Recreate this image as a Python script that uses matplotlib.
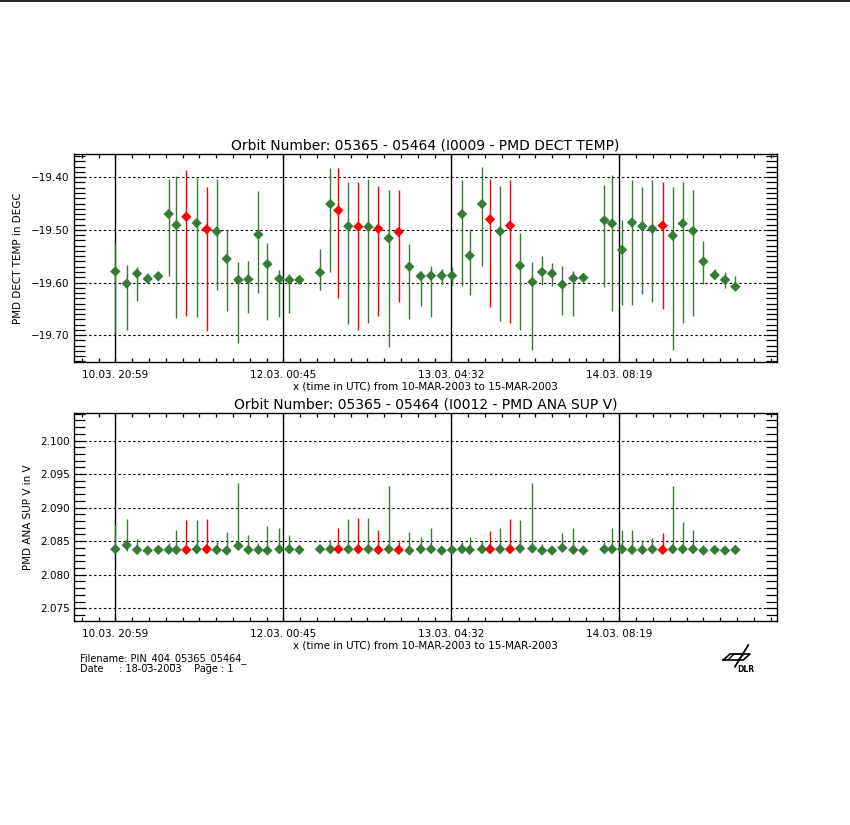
import numpy as np
import matplotlib
matplotlib.use('Agg')
import matplotlib.pyplot as plt
from matplotlib.ticker import FixedLocator, FuncFormatter

# time of each orbit sample, hours after 10-MAR-2003 00:00 UTC
obs_hours = [20.98, 22.86, 24.57, 26.33, 28.09, 29.80, 31.07, 32.72, 34.43, 36.09,
             37.74, 39.39, 41.32, 42.97, 44.63, 46.12, 48.10, 49.75, 51.41, 54.82,
             56.53, 57.86, 59.51, 61.16, 62.82, 64.47, 66.18, 67.83, 69.59, 71.47,
             73.18, 74.94, 76.65, 78.30, 79.57, 81.61, 82.93, 84.59, 86.24, 87.89,
             89.93, 91.53, 93.18, 94.89, 96.71, 98.36, 101.84, 103.11, 104.76, 106.41,
             108.12, 109.77, 111.48, 113.14, 114.79, 116.50, 118.21, 120.08, 121.79, 123.50]
# 1 = limit violation (drawn red)
limit_flag = [0, 0, 0, 0, 0, 0, 0, 1, 0, 1,
              0, 0, 0, 0, 0, 0, 0, 0, 0, 0,
              0, 1, 0, 1, 0, 1, 0, 1, 0, 0,
              0, 0, 0, 0, 0, 0, 1, 0, 1, 0,
              0, 0, 0, 0, 0, 0, 0, 0, 0, 0,
              0, 0, 1, 0, 0, 0, 0, 0, 0, 0]

# I0009 PMD DECT TEMP (DEGC): mean, min, max per orbit
temp_mean = [-19.579, -19.602, -19.583, -19.593, -19.588, -19.470, -19.491, -19.475, -19.487, -19.499,
             -19.503, -19.555, -19.595, -19.594, -19.509, -19.565, -19.593, -19.595, -19.595, -19.581,
             -19.451, -19.463, -19.493, -19.494, -19.494, -19.498, -19.516, -19.504, -19.570, -19.588,
             -19.587, -19.587, -19.587, -19.470, -19.549, -19.451, -19.480, -19.503, -19.492, -19.568,
             -19.599, -19.580, -19.583, -19.604, -19.592, -19.591, -19.482, -19.488, -19.538, -19.486,
             -19.493, -19.498, -19.492, -19.511, -19.488, -19.502, -19.560, -19.586, -19.595, -19.608]
temp_max = [-19.527, -19.566, -19.571, -19.582, -19.581, -19.404, -19.397, -19.386, -19.401, -19.419,
            -19.404, -19.500, -19.561, -19.559, -19.426, -19.525, -19.577, -19.583, -19.592, -19.536,
            -19.382, -19.382, -19.410, -19.409, -19.404, -19.416, -19.424, -19.424, -19.527, -19.579,
            -19.568, -19.575, -19.570, -19.405, -19.498, -19.380, -19.404, -19.416, -19.405, -19.506,
            -19.561, -19.549, -19.563, -19.568, -19.578, -19.586, -19.415, -19.396, -19.481, -19.405,
            -19.418, -19.405, -19.409, -19.418, -19.410, -19.424, -19.521, -19.575, -19.581, -19.587]
temp_min = [-19.696, -19.691, -19.636, -19.603, -19.598, -19.588, -19.668, -19.664, -19.666, -19.693,
            -19.614, -19.655, -19.715, -19.657, -19.619, -19.672, -19.666, -19.658, -19.600, -19.614,
            -19.581, -19.630, -19.678, -19.690, -19.676, -19.664, -19.723, -19.637, -19.669, -19.645,
            -19.666, -19.602, -19.606, -19.607, -19.623, -19.568, -19.647, -19.673, -19.676, -19.690,
            -19.729, -19.604, -19.606, -19.662, -19.664, -19.599, -19.609, -19.654, -19.642, -19.642,
            -19.621, -19.637, -19.650, -19.729, -19.676, -19.664, -19.602, -19.594, -19.611, -19.614]

# I0012 PMD ANA SUP V (V): mean, min, max per orbit
volt_mean = [2.0838, 2.0844, 2.0837, 2.0836, 2.0837, 2.0837, 2.0837, 2.0837, 2.0838, 2.0838,
             2.0837, 2.0836, 2.0843, 2.0837, 2.0837, 2.0836, 2.0838, 2.0838, 2.0837, 2.0838,
             2.0838, 2.0838, 2.0838, 2.0838, 2.0838, 2.0837, 2.0838, 2.0837, 2.0836, 2.0838,
             2.0838, 2.0836, 2.0837, 2.0838, 2.0837, 2.0838, 2.0838, 2.0838, 2.0838, 2.0839,
             2.0839, 2.0836, 2.0836, 2.0840, 2.0837, 2.0836, 2.0838, 2.0838, 2.0838, 2.0837,
             2.0837, 2.0838, 2.0837, 2.0838, 2.0838, 2.0838, 2.0836, 2.0837, 2.0836, 2.0837]
volt_max = [2.0874, 2.0883, 2.0853, 2.0838, 2.0840, 2.0847, 2.0867, 2.0882, 2.0882, 2.0883,
            2.0849, 2.0864, 2.0937, 2.0859, 2.0847, 2.0873, 2.0870, 2.0859, 2.0839, 2.0841,
            2.0852, 2.0870, 2.0883, 2.0885, 2.0885, 2.0867, 2.0932, 2.0852, 2.0864, 2.0856,
            2.0870, 2.0839, 2.0839, 2.0848, 2.0856, 2.0851, 2.0865, 2.0870, 2.0883, 2.0882,
            2.0937, 2.0846, 2.0842, 2.0862, 2.0869, 2.0839, 2.0849, 2.0870, 2.0867, 2.0867,
            2.0852, 2.0855, 2.0862, 2.0932, 2.0879, 2.0867, 2.0844, 2.0841, 2.0839, 2.0844]
volt_min = [2.0836, 2.0835, 2.0834, 2.0834, 2.0835, 2.0835, 2.0835, 2.0835, 2.0835, 2.0835,
            2.0835, 2.0834, 2.0839, 2.0835, 2.0835, 2.0834, 2.0835, 2.0835, 2.0835, 2.0835,
            2.0835, 2.0835, 2.0835, 2.0835, 2.0835, 2.0835, 2.0835, 2.0835, 2.0834, 2.0835,
            2.0835, 2.0834, 2.0835, 2.0835, 2.0835, 2.0835, 2.0835, 2.0835, 2.0835, 2.0836,
            2.0836, 2.0834, 2.0834, 2.0837, 2.0835, 2.0834, 2.0835, 2.0835, 2.0835, 2.0835,
            2.0835, 2.0835, 2.0835, 2.0835, 2.0835, 2.0835, 2.0834, 2.0835, 2.0834, 2.0835]

x_tick_labels = ['10.03. 20:59', '12.03. 00:45', '13.03. 04:32', '14.03. 08:19']
tick_start = 20 + 59 / 60.0
tick_step = 5000 / 3.0 / 60.0   # hours between labelled ticks
x_range = (14.15, 130.39)

GREEN = '#357a35'
RED = '#ff0000'
point_colors = [RED if f else GREEN for f in limit_flag]

plt.rcParams['font.family'] = 'DejaVu Sans'
fig = plt.figure(figsize=(8.5, 8.25), dpi=100)


def style_panel(ax, ylim, ymajor, yminor, fmt, title, ylabel, ylabel_x):
    majors = tick_start + tick_step * np.arange(len(x_tick_labels))
    ax.xaxis.set_major_locator(FixedLocator(majors))
    ax.xaxis.set_minor_locator(FixedLocator(
        np.arange(tick_start - 3 * tick_step / 10, x_range[1], tick_step / 10)))
    ax.set_xticklabels(x_tick_labels)
    for m in majors:
        ax.axvline(m, color='black', lw=1.0, zorder=1)
    lo = np.ceil(ylim[0] / ymajor) * ymajor
    yt = np.round(np.arange(lo, ylim[1], ymajor), 6)
    ymin_t = np.round(np.arange(np.ceil(ylim[0] / yminor) * yminor, ylim[1], yminor), 6)
    ax.yaxis.set_major_locator(FixedLocator(yt))
    ax.yaxis.set_minor_locator(FixedLocator(ymin_t))
    ax.yaxis.set_major_formatter(FuncFormatter(lambda v, p: (fmt % v).replace('-', '\u2212')))
    ax.grid(True, axis='y', which='major', color='black', lw=0.8, linestyle=(0, (2.2, 2.2)), zorder=1)
    ax.tick_params(axis='both', which='both', direction='in', top=True, right=True,
                   labelsize=7.5, width=0.9, color='black')
    ax.tick_params(axis='x', which='both', length=3, pad=5.5)
    ax.tick_params(axis='y', which='both', length=8, pad=3)
    for s in ax.spines.values():
        s.set_linewidth(1.0)
    ax.set_title(title, fontsize=10, pad=3)
    ax.set_xlabel('x (time in UTC) from 10-MAR-2003 to 15-MAR-2003', fontsize=7.5, labelpad=1)
    ax.set_ylabel(ylabel, fontsize=7.5)
    ax.yaxis.set_label_coords(ylabel_x, 0.5)
    ax.set_xlim(x_range)
    ax.set_ylim(ylim)


ax1 = fig.add_axes([0.0871, 0.5612, 0.8271, 0.2521])
ax1.vlines(obs_hours, temp_min, temp_max, colors=point_colors, lw=1.0, zorder=2)
ax1.scatter(obs_hours, temp_mean, marker='D', s=28, c=point_colors, edgecolors='none', zorder=3)
style_panel(ax1, (-19.751, -19.356), 0.1, 0.01, '%.2f',
            'Orbit Number: 05365 - 05464 (I0009 - PMD DECT TEMP)', 'PMD DECT TEMP in DEGC', -0.072)

ax2 = fig.add_axes([0.0871, 0.2473, 0.8271, 0.2521])
ax2.vlines(obs_hours, volt_min, volt_max, colors=point_colors, lw=1.0, zorder=2)
ax2.scatter(obs_hours, volt_mean, marker='D', s=28, c=point_colors, edgecolors='none', zorder=3)
style_panel(ax2, (2.0731, 2.1041), 0.005, 0.001, '%.3f',
            'Orbit Number: 05365 - 05464 (I0012 - PMD ANA SUP V)', 'PMD ANA SUP V in V', -0.058)

# page decoration in pixel coordinates
deco = fig.add_axes([0, 0, 1, 1], zorder=-5)
deco.set_xlim(0, 850)
deco.set_ylim(825, 0)
deco.axis('off')
deco.plot([0, 850], [0.8, 0.8], color='black', lw=1.2)
deco.plot([723.3, 730, 750, 743.3, 723.3], [660, 654, 654, 660, 660], color='black', lw=1.2)
deco.plot([728, 734, 744, 738], [660, 654, 654, 660], color='black', lw=1.0)
deco.plot([735, 748.3], [666.7, 645], color='black', lw=1.3)
deco.text(746, 669, 'DLR', fontsize=5.5, fontweight='bold', ha='center', va='center')

fig.text(80 / 850, 1 - 659 / 825, 'Filename: PIN_404_05365_05464_', fontsize=7, va='center')
fig.text(80 / 850, 1 - 668.5 / 825, 'Date     : 18-03-2003    Page : 1', fontsize=7, va='center')

fig.savefig('out.png', dpi=100, facecolor='white')
